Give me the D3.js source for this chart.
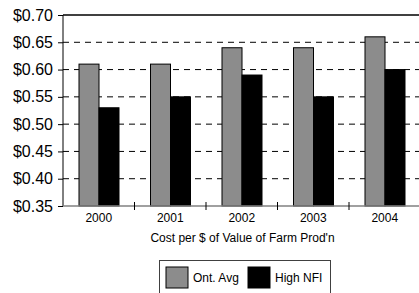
<!DOCTYPE html>
<html>
<head>
<meta charset="utf-8">
<script src="https://cdn.jsdelivr.net/npm/d3@7"></script>
<style>
  body { margin: 0; background: #fff; }
  svg { display: block; font-family: "Liberation Sans", Arial, sans-serif; }
</style>
</head>
<body>
<div id="chart"></div>
<script>
// chart data
const years = ["2000", "2001", "2002", "2003", "2004"];
const ontAvg = [0.61, 0.61, 0.64, 0.64, 0.66];
const highNFI = [0.53, 0.55, 0.59, 0.55, 0.60];
const yTicks = [0.35, 0.40, 0.45, 0.50, 0.55, 0.60, 0.65, 0.70];
const seriesNames = ["Ont. Avg", "High NFI"];
const seriesColors = ["#8c8c8c", "#000000"];

const width = 419, height = 293;
const plotL = 63, plotR = 420.5, plotT = 15, plotB = 206;

const svg = d3.select("#chart").append("svg")
  .attr("width", width)
  .attr("height", height);

const x = d3.scaleBand().domain(years).range([plotL, plotR]);
const y = d3.scaleLinear().domain([0.35, 0.70]).range([plotB, plotT]);

// dashed gridlines
svg.append("g")
  .selectAll("line")
  .data(yTicks.filter(d => d > 0.36 && d < 0.69))
  .enter().append("line")
  .attr("x1", plotL).attr("x2", plotR)
  .attr("y1", d => y(d)).attr("y2", d => y(d))
  .attr("stroke", "#000")
  .attr("stroke-dasharray", "6,5");

// top border of plot
svg.append("line")
  .attr("x1", plotL).attr("x2", plotR)
  .attr("y1", y(0.70)).attr("y2", y(0.70))
  .attr("stroke", "#404040")
  .attr("stroke-width", 2);

// bars
const barW = 20, offset = 16;
const data = years.map((yr, i) => ({ year: yr, vals: [ontAvg[i], highNFI[i]] }));

const groups = svg.append("g")
  .selectAll("g")
  .data(data)
  .enter().append("g")
  .attr("transform", d => `translate(${x(d.year) + offset},0)`);

groups.selectAll("rect")
  .data(d => d.vals)
  .enter().append("rect")
  .attr("x", (d, i) => i * barW)
  .attr("y", d => y(d))
  .attr("width", barW)
  .attr("height", d => plotB - y(d))
  .attr("fill", (d, i) => seriesColors[i])
  .attr("stroke", "#000")
  .attr("stroke-width", 1);

// y axis
const yAxis = d3.axisLeft(y)
  .tickValues(yTicks)
  .tickSize(5)
  .tickFormat(d => "$" + d.toFixed(2));

svg.append("g")
  .attr("transform", `translate(${plotL},0)`)
  .call(yAxis)
  .call(g => g.select(".domain").attr("d", `M0,${plotT}V${plotB}`).attr("stroke", "#000"))
  .call(g => g.selectAll("text")
    .attr("x", -10)
    .style("font-size", "16px")
    .style("font-family", "Liberation Sans, Arial, sans-serif")
    .attr("fill", "#000"));

// x axis
svg.append("line")
  .attr("x1", plotL).attr("x2", plotR)
  .attr("y1", plotB).attr("y2", plotB)
  .attr("stroke", "#808080")
  .attr("stroke-width", 1.5);

svg.append("g")
  .selectAll("line")
  .data(years.slice(1))
  .enter().append("line")
  .attr("x1", d => x(d)).attr("x2", d => x(d))
  .attr("y1", plotB - 4).attr("y2", plotB + 4)
  .attr("stroke", "#000");

svg.append("g")
  .selectAll("text")
  .data(years)
  .enter().append("text")
  .attr("x", d => x(d) + x.bandwidth() / 2)
  .attr("y", 222)
  .attr("text-anchor", "middle")
  .style("font-size", "12px")
  .text(d => d);

svg.append("text")
  .attr("x", 242.5)
  .attr("y", 242)
  .attr("text-anchor", "middle")
  .style("font-size", "12px")
  .text("Cost per $ of Value of Farm Prod'n");

// legend
const legend = svg.append("g");
legend.append("rect")
  .attr("x", 159.5).attr("y", 260.5)
  .attr("width", 171).attr("height", 40)
  .attr("fill", "#fff")
  .attr("stroke", "#404040");

const legendX = [166, 248];
const item = legend.selectAll("g.item")
  .data(seriesNames)
  .enter().append("g")
  .attr("class", "item")
  .attr("transform", (d, i) => `translate(${legendX[i]},267)`);

item.append("rect")
  .attr("width", 22).attr("height", 21)
  .attr("fill", (d, i) => seriesColors[i])
  .attr("stroke", "#000");

item.append("text")
  .attr("x", 27)
  .attr("y", 15)
  .style("font-size", "12px")
  .text(d => d);
</script>
</body>
</html>
